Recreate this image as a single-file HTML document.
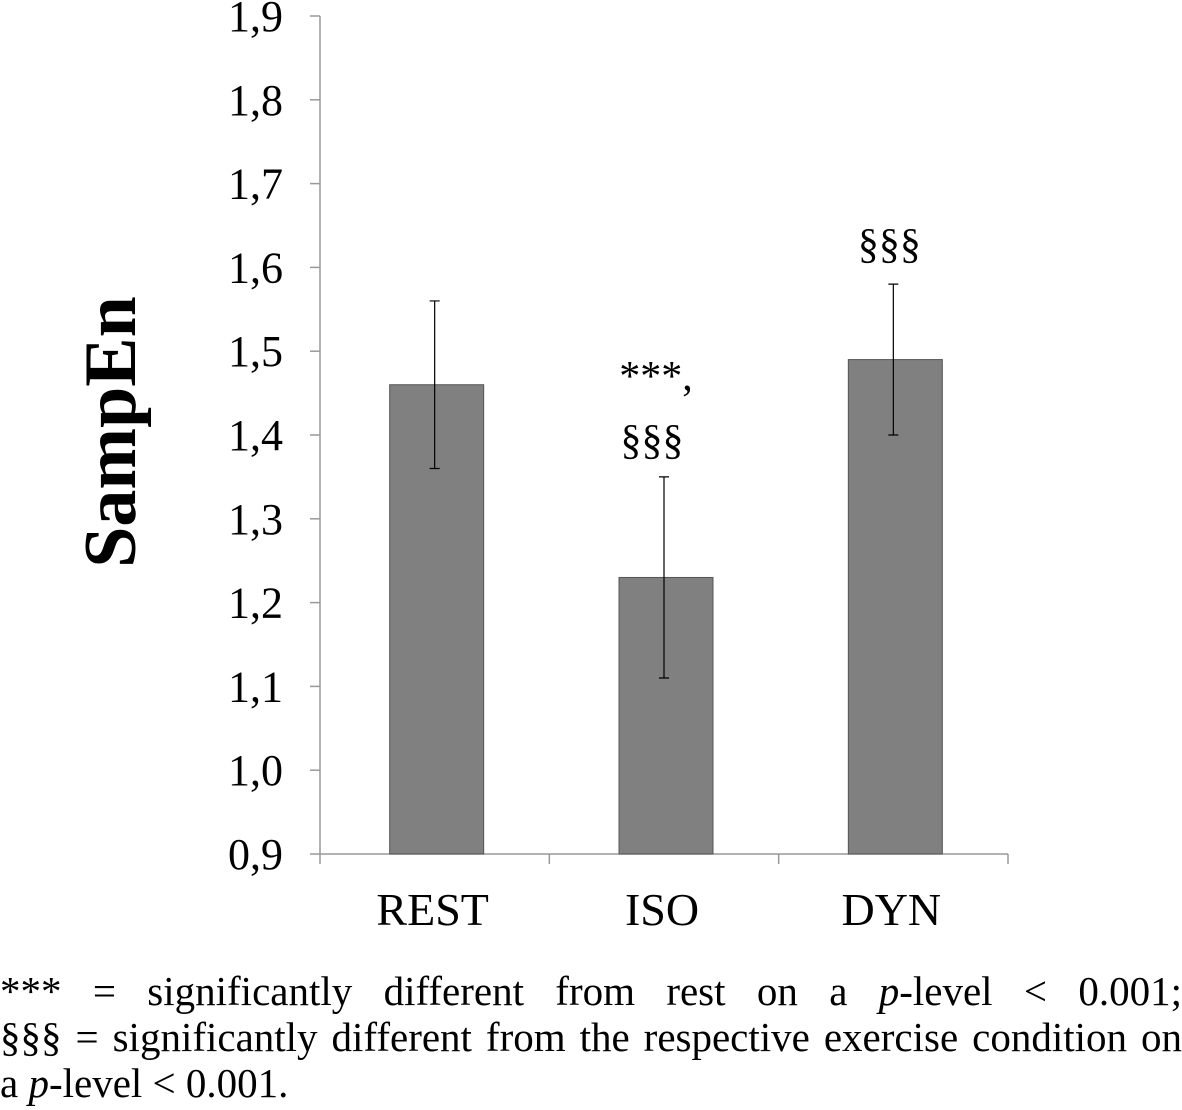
<!DOCTYPE html>
<html><head><meta charset="utf-8"><style>
body{margin:0;background:#fff;width:1182px;height:1110px;overflow:hidden;font-family:"Liberation Serif",serif;}
.fn{position:absolute;left:0;width:1182px;font-size:41px;line-height:46px;color:#000;white-space:nowrap;}
.j{text-align:justify;text-align-last:justify;white-space:normal;}
</style></head><body>
<svg width="1182" height="960" style="position:absolute;left:0;top:0" font-family="Liberation Serif, serif">
<g id="g"></g>
</svg>
<div class="fn j" style="top:968px">*** = significantly different from rest on a <i>p</i>-level &lt; 0.001;</div>
<div class="fn j" style="top:1014px">§§§ = significantly different from the respective exercise condition on</div>
<div class="fn" style="top:1060px">a <i>p</i>-level &lt; 0.001.</div>
<script>
const categories=["REST","ISO","DYN"];
const values=[1.46,1.23,1.49];
const errors=[0.10,0.12,0.09];
const ticks=[0.9,1.0,1.1,1.2,1.3,1.4,1.5,1.6,1.7,1.8,1.9];
const tickLabels=["0,9","1,0","1,1","1,2","1,3","1,4","1,5","1,6","1,7","1,8","1,9"];
const NS="http://www.w3.org/2000/svg";
const g=document.getElementById('g');
const x0=320,x1=1008,yTop=16,yBot=854,vMin=0.9,vMax=1.9;
const y=v=>yBot-(v-vMin)/(vMax-vMin)*(yBot-yTop);
const bw=(x1-x0)/categories.length;
const cx=i=>x0+bw*(i+0.5);
function mk(t,a,txt){const e=document.createElementNS(NS,t);for(const k in a)e.setAttribute(k,a[k]);if(txt!==undefined)e.textContent=txt;g.appendChild(e);return e;}
let e=mk('line',{x1:x0,y1:yTop,x2:x0,y2:yBot,stroke:'#999','stroke-width':1.5});


e=mk('line',{x1:x0,y1:yBot,x2:x1,y2:yBot,stroke:'#999','stroke-width':1.5});


ticks.forEach((t,i)=>{
 mk('line',{x1:x0-10,y1:y(t),x2:x0,y2:y(t),stroke:'#999','stroke-width':1.5});
 const l=mk('text',{x:283,y:y(t)+15,'text-anchor':'end','font-size':44},tickLabels[i]);
 
 
});
for(let i=0;i<=categories.length;i++) mk('line',{x1:x0+bw*i,y1:yBot,x2:x0+bw*i,y2:yBot+10,stroke:'#999','stroke-width':1.5});
categories.forEach((c,i)=>{
 const w=94;
 const b=mk('rect',{x:cx(i)-w/2+2,y:y(values[i]),width:w,height:yBot-y(values[i]),fill:'#808080',stroke:'#555','stroke-width':1});
 
 
 const eb=mk('path',{d:`M${cx(i)},${y(values[i]+errors[i])}V${y(values[i]-errors[i])}M${cx(i)-5},${y(values[i]+errors[i])}H${cx(i)+5}M${cx(i)-5},${y(values[i]-errors[i])}H${cx(i)+5}`,stroke:'#000','stroke-width':1.2,fill:'none'});
 
 
 const l=mk('text',{x:cx(i)-2,y:925,'text-anchor':'middle','font-size':46},c);
 
 
});
e=mk('text',{x:cx(1)-8,y:390,'text-anchor':'middle','font-size':42},'***,');


e=mk('text',{x:cx(1)-12,y:454,'text-anchor':'middle','font-size':42},'§§§');


e=mk('text',{x:cx(2)-4,y:258,'text-anchor':'middle','font-size':42},'§§§');


e=mk('text',{x:0,y:0,'text-anchor':'middle','font-size':74,'font-weight':'bold',transform:'translate(135,432) rotate(-90)'},'SampEn');


</script>
</body></html>
